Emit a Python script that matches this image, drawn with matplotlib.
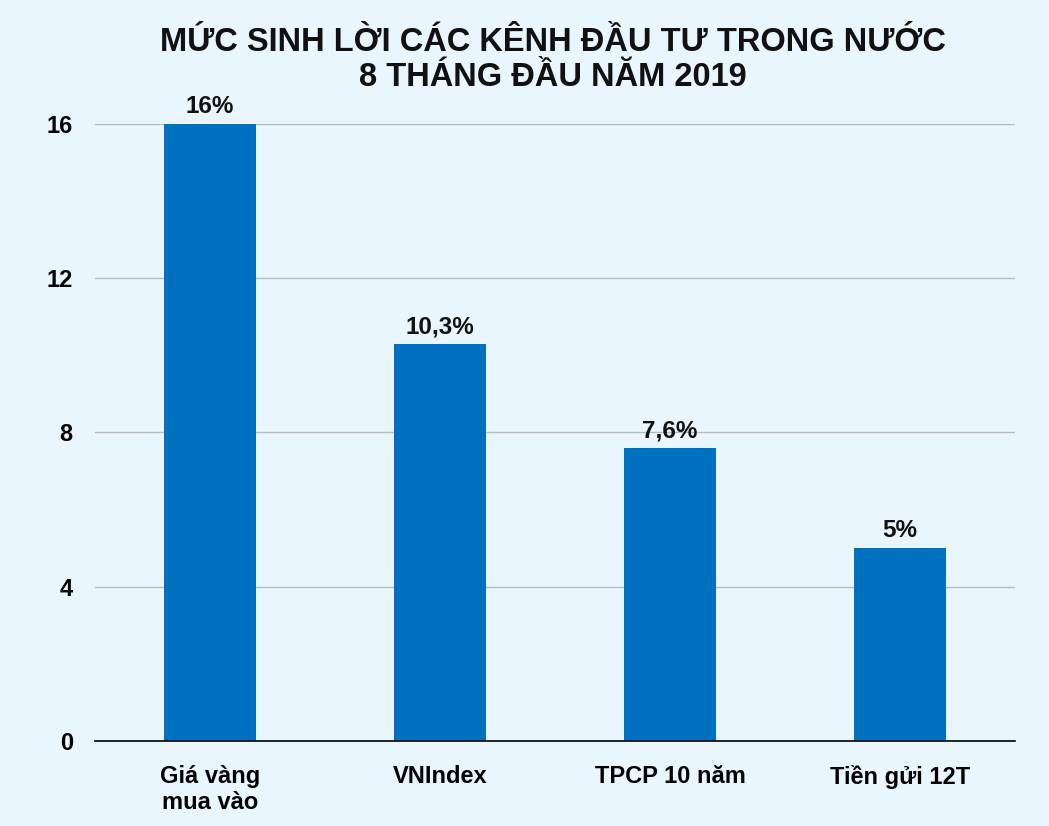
#!/usr/bin/env python3
import matplotlib
matplotlib.use('Agg')
from matplotlib import pyplot as plt

plt.rcParams['font.family'] = ['Liberation Sans', 'DejaVu Sans']

categories = ['Giá vàng\nmua vào', 'VNIndex', 'TPCP 10 năm', 'Tiền gửi 12T']
values = [16, 10.3, 7.6, 5]
value_labels = ['16%', '10,3%', '7,6%', '5%']
yticks = [0, 4, 8, 12, 16]

bg = '#EAF6FD'
bar_color = '#0070C0'


def main():
    fig = plt.figure(figsize=(10.49, 8.26), dpi=100, facecolor=bg)
    ax = fig.add_axes([0.0906, 0.1029, 0.877, 0.747], facecolor=bg)

    xs = range(len(categories))
    ax.bar(xs, values, width=0.4, color=bar_color, zorder=3)
    for x, v, lab in zip(xs, values, value_labels):
        ax.text(x, v + 0.15, lab, ha='center', va='bottom',
                fontsize=17.5, fontweight='bold', color='#111111')

    ax.set_xlim(-0.5, 3.5)
    ax.set_ylim(0, 16)
    ax.set_yticks(yticks)
    ax.set_yticklabels([str(t) for t in yticks], fontsize=17, fontweight='bold')
    ax.set_xticks(list(xs))
    ax.set_xticklabels(categories, fontsize=17, fontweight='bold',
                       linespacing=1.2, va='top')
    ax.tick_params(axis='both', length=0)
    ax.tick_params(axis='y', pad=16)
    ax.tick_params(axis='x', pad=17)
    ax.yaxis.grid(True, color='#BBBBBB', linewidth=1, zorder=0)
    for s in ['top', 'right', 'left']:
        ax.spines[s].set_visible(False)
    ax.spines['bottom'].set_color('#000000')
    ax.spines['bottom'].set_linewidth(1.2)
    ax.spines['bottom'].set_zorder(4)

    fig.text(0.527, 0.927, 'MỨC SINH LỜI CÁC KÊNH ĐẦU TƯ TRONG NƯỚC\n8 THÁNG ĐẦU NĂM 2019',
             ha='center', va='center', fontsize=23.5, fontweight='bold',
             linespacing=1.18, color='#111111')

    fig.savefig('out.png', dpi=100, facecolor=bg)


if __name__ == '__main__':
    main()
